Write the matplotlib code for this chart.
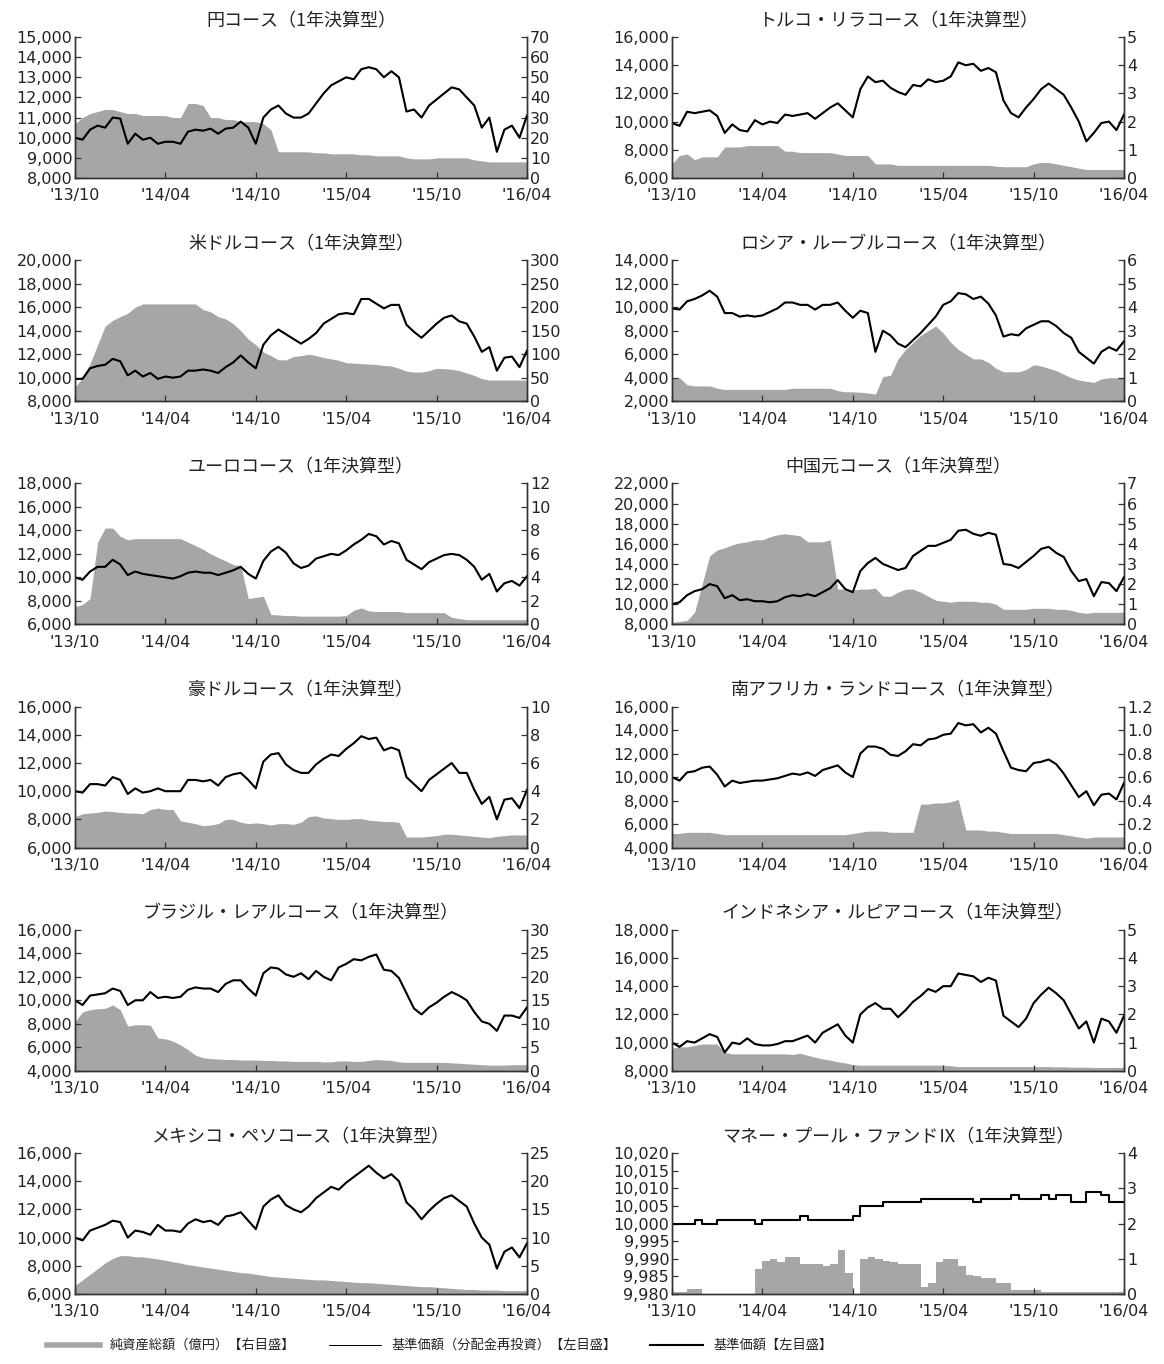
import numpy as np
import matplotlib
matplotlib.use("Agg")
import matplotlib.pyplot as plt
from matplotlib.lines import Line2D
from matplotlib.ticker import FuncFormatter

plt.rcParams['font.family'] = ['Noto Sans CJK JP', 'DejaVu Sans']

# half-month steps from '13/10 (0) to '16/04 (30)
months = np.arange(0, 30.5, 0.5)
tick_pos = [0, 6, 12, 18, 24, 30]
tick_labels = ["'13/10", "'14/04", "'14/10", "'15/04", "'15/10", "'16/04"]

titles = ['円コース（1年決算型）', 'トルコ・リラコース（1年決算型）',
          '米ドルコース（1年決算型）', 'ロシア・ルーブルコース（1年決算型）',
          'ユーロコース（1年決算型）', '中国元コース（1年決算型）',
          '豪ドルコース（1年決算型）', '南アフリカ・ランドコース（1年決算型）',
          'ブラジル・レアルコース（1年決算型）', 'インドネシア・ルピアコース（1年決算型）',
          'メキシコ・ペソコース（1年決算型）', 'マネー・プール・ファンドⅨ（1年決算型）']

# 基準価額 (left axis)
yen_price = [10000, 9900, 10400, 10600, 10500, 11000, 10950, 9700, 10200, 9900,
             10000, 9700, 9800, 9800, 9700, 10300, 10400, 10350, 10450, 10200,
             10450, 10500, 10800, 10500, 9700, 11000, 11400, 11600, 11200, 11000,
             11000, 11200, 11700, 12200, 12600, 12800, 13000, 12900, 13400, 13500,
             13400, 13000, 13300, 13000, 11300, 11400, 11000, 11600, 11900, 12200,
             12500, 12400, 12000, 11600, 10500, 11000, 9300, 10400, 10600, 10000,
             11100]
try_price = [9900, 9700, 10700, 10600, 10700, 10800, 10400, 9200, 9800, 9400,
             9300, 10100, 9800, 10000, 9900, 10500, 10400, 10500, 10600, 10200,
             10600, 11000, 11300, 10800, 10300, 12300, 13200, 12800, 12900, 12400,
             12100, 11900, 12600, 12500, 13000, 12800, 12900, 13200, 14200, 14000,
             14100, 13600, 13800, 13500, 11500, 10600, 10300, 11000, 11600, 12300,
             12700, 12300, 11900, 11000, 10000, 8600, 9200, 9900, 10000, 9400,
             10500]
usd_price = [9900, 9900, 10800, 11000, 11100, 11600, 11400, 10200, 10600, 10100,
             10400, 9900, 10100, 10000, 10100, 10600, 10600, 10700, 10600, 10400,
             10900, 11300, 11900, 11300, 10800, 12800, 13600, 14100, 13700, 13300,
             12900, 13300, 13800, 14600, 15000, 15400, 15500, 15400, 16700, 16700,
             16300, 15900, 16200, 16200, 14500, 13900, 13400, 14000, 14600, 15100,
             15300, 14800, 14600, 13500, 12200, 12600, 10600, 11700, 11800, 10900,
             12300]
rub_price = [9900, 9800, 10500, 10700, 11000, 11400, 10900, 9500, 9500, 9200,
             9300, 9200, 9300, 9600, 9900, 10400, 10400, 10200, 10200, 9800,
             10200, 10200, 10400, 9700, 9100, 9700, 9500, 6200, 8000, 7600,
             6900, 6600, 7200, 7800, 8500, 9200, 10200, 10500, 11200, 11100,
             10700, 10900, 10300, 9300, 7500, 7700, 7600, 8200, 8500, 8800,
             8800, 8400, 7800, 7400, 6200, 5700, 5200, 6200, 6600, 6300,
             7100]
eur_price = [10000, 9800, 10500, 10900, 10900, 11500, 11100, 10200, 10500, 10300,
             10200, 10100, 10000, 9900, 10100, 10400, 10500, 10400, 10400, 10200,
             10400, 10600, 10900, 10300, 9900, 11400, 12200, 12600, 12100, 11200,
             10800, 11000, 11600, 11800, 12000, 11900, 12300, 12800, 13200, 13700,
             13500, 12800, 13100, 12900, 11500, 11100, 10700, 11300, 11600, 11900,
             12000, 11900, 11500, 10900, 9800, 10300, 8800, 9500, 9700, 9300,
             10100]
cny_price = [10000, 10200, 10900, 11300, 11500, 12000, 11800, 10600, 10900, 10400,
             10500, 10300, 10300, 10200, 10300, 10700, 10900, 10800, 11000, 10800,
             11200, 11600, 12400, 11500, 11200, 13300, 14100, 14600, 14000, 13700,
             13400, 13600, 14800, 15300, 15800, 15800, 16100, 16400, 17300, 17400,
             17000, 16800, 17100, 16900, 14000, 13900, 13600, 14200, 14800, 15500,
             15700, 15100, 14700, 13300, 12300, 12500, 10800, 12200, 12100, 11300,
             12700]
aud_price = [10000, 9900, 10500, 10500, 10400, 11000, 10800, 9800, 10200, 9900,
             10000, 10200, 10000, 10000, 10000, 10800, 10800, 10700, 10800, 10400,
             11000, 11200, 11300, 10800, 10200, 12100, 12600, 12700, 11900, 11500,
             11300, 11300, 11900, 12300, 12600, 12500, 13000, 13400, 13900, 13700,
             13800, 12900, 13100, 12900, 11000, 10500, 10000, 10800, 11200, 11600,
             12000, 11300, 11300, 10100, 9100, 9600, 8000, 9400, 9500, 8800,
             10100]
zar_price = [10000, 9700, 10400, 10500, 10800, 10900, 10200, 9200, 9700, 9500,
             9600, 9700, 9700, 9800, 9900, 10100, 10300, 10200, 10400, 10100,
             10600, 10800, 11000, 10400, 10000, 12000, 12600, 12600, 12400, 11900,
             11800, 12200, 12800, 12700, 13200, 13300, 13600, 13700, 14600, 14400,
             14500, 13800, 14200, 13700, 12200, 10800, 10600, 10500, 11200, 11300,
             11500, 11100, 10300, 9300, 8300, 8800, 7600, 8500, 8600, 8100,
             9500]
brl_price = [10000, 9600, 10400, 10500, 10600, 11000, 10800, 9600, 10000, 10000,
             10700, 10200, 10300, 10200, 10300, 10900, 11100, 11000, 11000, 10700,
             11400, 11700, 11700, 11000, 10400, 12300, 12800, 12700, 12200, 12000,
             12300, 11800, 12500, 12000, 11700, 12800, 13100, 13500, 13400, 13700,
             13900, 12600, 12500, 11900, 10600, 9300, 8800, 9400, 9800, 10300,
             10700, 10400, 10000, 9000, 8200, 8000, 7400, 8700, 8700, 8500,
             9400]
idr_price = [10000, 9700, 10100, 10000, 10300, 10600, 10400, 9300, 10000, 9900,
             10300, 9900, 9800, 9800, 9900, 10100, 10100, 10300, 10500, 10000,
             10700, 11000, 11300, 10500, 10000, 12000, 12500, 12800, 12400, 12400,
             11800, 12300, 12900, 13300, 13800, 13600, 14000, 14000, 14900, 14800,
             14700, 14300, 14600, 14400, 11900, 11500, 11100, 11700, 12800, 13400,
             13900, 13500, 13000, 12000, 11000, 11500, 10000, 11700, 11500, 10700,
             11900]
mxn_price = [10000, 9800, 10500, 10700, 10900, 11200, 11100, 10000, 10500, 10400,
             10200, 10900, 10500, 10500, 10400, 11000, 11300, 11100, 11200, 10900,
             11500, 11600, 11800, 11200, 10600, 12200, 12700, 13000, 12300, 12000,
             11800, 12200, 12800, 13200, 13600, 13400, 13900, 14300, 14700, 15100,
             14600, 14200, 14500, 14000, 12500, 12000, 11300, 11900, 12400, 12800,
             13000, 12600, 12200, 11000, 10000, 9500, 7800, 9000, 9300, 8600,
             9600]
mmf_price = [10000, 10000, 10000, 10001, 10000, 10000, 10001, 10001, 10001, 10001,
             10001, 10000, 10001, 10001, 10001, 10001, 10001, 10002, 10001, 10001,
             10001, 10001, 10001, 10001, 10002, 10005, 10005, 10005, 10006, 10006,
             10006, 10006, 10006, 10007, 10007, 10007, 10007, 10007, 10007, 10007,
             10006, 10007, 10007, 10007, 10007, 10008, 10007, 10007, 10007, 10008,
             10007, 10008, 10008, 10006, 10006, 10009, 10009, 10008, 10006, 10006,
             10006]

# 純資産総額 (億円, right axis)
yen_assets = [27, 30, 32, 33, 34, 34, 33, 32, 32, 31,
              31, 31, 31, 30, 30, 37, 37, 36, 30, 30,
              29, 29, 28, 28, 28, 27, 24, 13, 13, 13,
              13, 13, 12.5, 12.5, 12, 12, 12, 12, 11.5, 11.5,
              11, 11, 11, 11, 10, 9.5, 9.5, 9.5, 10, 10,
              10, 10, 10, 9, 8.5, 8, 8, 8, 8, 8,
              8]
try_assets = [0.5, 0.8, 0.85, 0.65, 0.75, 0.75, 0.75, 1.1, 1.1, 1.1,
              1.15, 1.15, 1.15, 1.15, 1.15, 0.95, 0.95, 0.9, 0.9, 0.9,
              0.9, 0.9, 0.85, 0.8, 0.8, 0.8, 0.8, 0.5, 0.5, 0.5,
              0.45, 0.45, 0.45, 0.45, 0.45, 0.45, 0.45, 0.45, 0.45, 0.45,
              0.45, 0.45, 0.45, 0.42, 0.4, 0.4, 0.4, 0.4, 0.5, 0.55,
              0.55, 0.5, 0.45, 0.4, 0.35, 0.3, 0.3, 0.3, 0.3, 0.3,
              0.3]
usd_assets = [30, 50, 80, 120, 160, 172, 180, 187, 200, 207,
              207, 207, 207, 207, 207, 207, 207, 195, 190, 180,
              175, 165, 150, 132, 120, 105, 97, 88, 88, 95,
              97, 100, 97, 93, 90, 87, 82, 81, 80, 79,
              78, 76, 75, 70, 64, 62, 62, 65, 70, 69,
              68, 65, 60, 55, 48, 45, 45, 45, 45, 45,
              45]
rub_assets = [1.0, 1.0, 0.7, 0.65, 0.65, 0.65, 0.55, 0.5, 0.5, 0.5,
              0.5, 0.5, 0.5, 0.5, 0.5, 0.5, 0.55, 0.55, 0.55, 0.55,
              0.55, 0.55, 0.45, 0.4, 0.4, 0.38, 0.35, 0.3, 1.05, 1.1,
              1.8, 2.2, 2.5, 2.8, 3.0, 3.2, 2.9, 2.5, 2.2, 2.0,
              1.8, 1.8, 1.65, 1.4, 1.25, 1.25, 1.25, 1.35, 1.55, 1.5,
              1.4, 1.3, 1.15, 1.0, 0.9, 0.85, 0.8, 0.95, 1.0, 1.0,
              1.0]
eur_assets = [1.5, 1.7, 2.2, 7.0, 8.2, 8.2, 7.5, 7.2, 7.3, 7.3,
              7.3, 7.3, 7.3, 7.3, 7.3, 7.0, 6.7, 6.4, 6.0, 5.7,
              5.4, 5.1, 5.0, 2.2, 2.3, 2.4, 0.85, 0.8, 0.75, 0.75,
              0.7, 0.7, 0.7, 0.7, 0.7, 0.7, 0.75, 1.2, 1.4, 1.15,
              1.1, 1.1, 1.1, 1.1, 1.0, 1.0, 1.0, 1.0, 1.0, 1.0,
              0.6, 0.5, 0.4, 0.4, 0.4, 0.4, 0.4, 0.4, 0.4, 0.4,
              0.4]
cny_assets = [0.1, 0.15, 0.2, 0.6, 2.0, 3.4, 3.7, 3.8, 3.95, 4.05,
              4.1, 4.2, 4.2, 4.35, 4.45, 4.5, 4.45, 4.4, 4.1, 4.1,
              4.1, 4.2, 1.75, 1.75, 1.7, 1.75, 1.75, 1.8, 1.4, 1.4,
              1.6, 1.75, 1.75, 1.6, 1.4, 1.2, 1.15, 1.1, 1.15, 1.15,
              1.15, 1.1, 1.1, 1.0, 0.75, 0.75, 0.75, 0.75, 0.8, 0.8,
              0.8, 0.75, 0.75, 0.7, 0.6, 0.55, 0.6, 0.6, 0.6, 0.6,
              0.6]
aud_assets = [2.2, 2.4, 2.45, 2.5, 2.6, 2.55, 2.5, 2.45, 2.45, 2.4,
              2.7, 2.8, 2.7, 2.7, 1.9, 1.8, 1.7, 1.55, 1.6, 1.7,
              2.0, 2.0, 1.8, 1.7, 1.75, 1.7, 1.6, 1.7, 1.7, 1.65,
              1.8, 2.2, 2.25, 2.1, 2.05, 2.0, 2.0, 2.05, 2.05, 1.95,
              1.9, 1.85, 1.85, 1.8, 0.75, 0.75, 0.75, 0.8, 0.85, 0.95,
              0.95, 0.9, 0.85, 0.8, 0.75, 0.7, 0.8, 0.85, 0.9, 0.9,
              0.9]
zar_assets = [0.12, 0.12, 0.13, 0.13, 0.13, 0.13, 0.12, 0.11, 0.11, 0.11,
              0.11, 0.11, 0.11, 0.11, 0.11, 0.11, 0.11, 0.11, 0.11, 0.11,
              0.11, 0.11, 0.11, 0.11, 0.12, 0.13, 0.14, 0.14, 0.14, 0.13,
              0.13, 0.13, 0.13, 0.37, 0.37, 0.38, 0.38, 0.39, 0.41, 0.15,
              0.15, 0.15, 0.14, 0.14, 0.13, 0.12, 0.12, 0.12, 0.12, 0.12,
              0.12, 0.12, 0.11, 0.1, 0.09, 0.08, 0.09, 0.09, 0.09, 0.09,
              0.09]
brl_assets = [10.5, 12.5, 13, 13.2, 13.3, 14, 13, 9.5, 9.8, 9.8,
              9.7, 7.0, 6.8, 6.3, 5.5, 4.5, 3.3, 2.8, 2.6, 2.5,
              2.4, 2.4, 2.3, 2.3, 2.3, 2.2, 2.2, 2.1, 2.1, 2.0,
              2.0, 2.0, 2.0, 1.9, 1.9, 2.1, 2.1, 2.0, 2.0, 2.2,
              2.4, 2.3, 2.2, 1.9, 1.8, 1.8, 1.8, 1.8, 1.8, 1.8,
              1.7, 1.6, 1.5, 1.4, 1.3, 1.2, 1.2, 1.2, 1.3, 1.3,
              1.3]
idr_assets = [0.8, 0.85, 0.85, 0.9, 0.95, 0.95, 0.95, 0.65, 0.6, 0.6,
              0.6, 0.6, 0.6, 0.6, 0.6, 0.6, 0.58, 0.62, 0.55, 0.48,
              0.42, 0.38, 0.32, 0.28, 0.22, 0.2, 0.2, 0.2, 0.2, 0.2,
              0.2, 0.2, 0.2, 0.2, 0.2, 0.2, 0.2, 0.18, 0.15, 0.15,
              0.15, 0.15, 0.15, 0.15, 0.15, 0.15, 0.15, 0.15, 0.15, 0.15,
              0.15, 0.14, 0.14, 0.13, 0.13, 0.13, 0.12, 0.12, 0.12, 0.12,
              0.12]
mxn_assets = [1.5, 2.5, 3.5, 4.5, 5.5, 6.3, 6.8, 6.8, 6.6, 6.6,
              6.4, 6.2, 6.0, 5.7, 5.5, 5.2, 5.0, 4.8, 4.6, 4.4,
              4.2, 4.0, 3.8, 3.7, 3.5, 3.3, 3.1, 3.0, 2.9, 2.8,
              2.7, 2.6, 2.5, 2.5, 2.4, 2.3, 2.2, 2.1, 2.0, 2.0,
              1.9, 1.8, 1.7, 1.6, 1.5, 1.4, 1.3, 1.3, 1.2, 1.1,
              1.0, 0.9, 0.8, 0.8, 0.7, 0.7, 0.7, 0.6, 0.6, 0.6,
              0.6]
mmf_assets = [0.05, 0.05, 0.15, 0.15, 0.0, 0.0, 0.0, 0.0, 0.0, 0.0,
              0.0, 0.7, 0.95, 1.0, 0.9, 1.05, 1.05, 0.85, 0.85, 0.85,
              0.8, 0.85, 1.25, 0.6, 0.0, 1.0, 1.05, 1.0, 0.95, 0.9,
              0.85, 0.85, 0.85, 0.2, 0.3, 0.9, 1.0, 1.0, 0.8, 0.55,
              0.5, 0.45, 0.45, 0.3, 0.3, 0.1, 0.1, 0.1, 0.1, 0.05,
              0.05, 0.05, 0.05, 0.05, 0.05, 0.05, 0.05, 0.05, 0.05, 0.05,
              0.05]

prices = [yen_price, try_price, usd_price, rub_price, eur_price, cny_price,
          aud_price, zar_price, brl_price, idr_price, mxn_price, mmf_price]
assets = [yen_assets, try_assets, usd_assets, rub_assets, eur_assets, cny_assets,
          aud_assets, zar_assets, brl_assets, idr_assets, mxn_assets, mmf_assets]

# (min, max, step) of left and right scales
left_scales = [(8000, 15000, 1000), (6000, 16000, 2000), (8000, 20000, 2000),
               (2000, 14000, 2000), (6000, 18000, 2000), (8000, 22000, 2000),
               (6000, 16000, 2000), (4000, 16000, 2000), (4000, 16000, 2000),
               (8000, 18000, 2000), (6000, 16000, 2000), (9980, 10020, 5)]
right_scales = [(0, 70, 10), (0, 5, 1), (0, 300, 50), (0, 6, 1), (0, 12, 2),
                (0, 7, 1), (0, 10, 2), (0, 1.2, 0.2), (0, 30, 5), (0, 5, 1),
                (0, 25, 5), (0, 4, 1)]

grey = '#a6a6a6'
txt = '#222222'
W, H = 1164, 1364

fig = plt.figure(figsize=(W / 100, H / 100), dpi=100)

for i in range(12):
    row, col = divmod(i, 2)
    x0 = [75, 672][col]
    top = 37 + 223.2 * row
    ax = fig.add_axes([x0 / W, 1 - (top + 141) / H, 452 / W, 141 / H])
    ax2 = ax.twinx()
    ax.set_zorder(ax2.get_zorder() + 1)
    ax.patch.set_visible(False)

    ds = 'steps-post' if i == 11 else 'default'
    ax2.fill_between(months, 0, assets[i], color=grey, lw=0,
                     step='post' if i == 11 else None)
    ax.plot(months, prices[i], color='black', lw=0.7, drawstyle=ds)
    ax.plot(months, prices[i], color='black', lw=1.5, drawstyle=ds)

    lo, hi, st = left_scales[i]
    ax.set_ylim(lo, hi)
    ax.set_yticks(np.arange(lo, hi + st / 2, st))
    ax.yaxis.set_major_formatter(FuncFormatter(lambda v, p: f'{v:,.0f}'))
    rlo, rhi, rst = right_scales[i]
    ax2.set_ylim(rlo, rhi)
    ax2.set_yticks(np.arange(rlo, rhi + rst / 2, rst))
    if i == 7:
        ax2.yaxis.set_major_formatter(FuncFormatter(lambda v, p: f'{v:.1f}'))
    else:
        ax2.yaxis.set_major_formatter(FuncFormatter(lambda v, p: f'{v:g}'))

    ax.set_xlim(0, 30)
    ax.set_xticks(tick_pos)
    ax.set_xticklabels(tick_labels)

    for a in (ax, ax2):
        a.spines['top'].set_visible(False)
        for s in ('left', 'right', 'bottom'):
            a.spines[s].set_color('#333333')
            a.spines[s].set_linewidth(1.0)
        a.tick_params(direction='in', length=4, width=0.9, colors='#333333',
                      labelcolor=txt, labelsize=11.5, pad=2)
        for lab in a.get_yticklabels() + a.get_xticklabels():
            lab.set_family(['DejaVu Sans'])
    ax.tick_params(axis='x', pad=7.5)
    ax.set_title(titles[i], fontsize=13, color=txt, pad=8)

handles = [Line2D([], [], color=grey, lw=4),
           Line2D([], [], color='black', lw=0.7),
           Line2D([], [], color='black', lw=1.5)]
labels = ['純資産総額（億円）【右目盛】', '基準価額（分配金再投資）【左目盛】', '基準価額【左目盛】']
fig.legend(handles, labels, loc='lower left', bbox_to_anchor=(0.03, 0.0),
           ncol=3, frameon=False, fontsize=9.5, handlelength=4,
           columnspacing=2.5, labelcolor=txt)

fig.savefig('out.png', dpi=100)
